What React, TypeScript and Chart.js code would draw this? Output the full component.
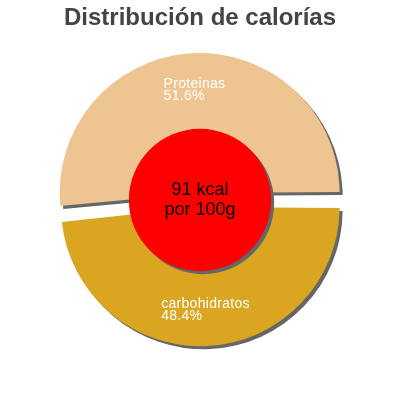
import { useEffect, useRef } from 'react';
import { Chart, ChartConfiguration, Plugin, registerables } from 'chart.js';

Chart.register(...registerables);

const labels = ['Proteinas', 'carbohidratos'];
const percents = [51.6, 48.4];
const sliceColors = ['#EEC591', '#DAA520'];
const centerLines = ['91 kcal', 'por 100g'];
const titleText = 'Distribución de calorías';

// start the first slice so the second one ends at 3 o'clock
const rotation = 90 + 180 - (percents[0] - 50) * 3.6;

const FONT = '"Liberation Sans", Arial, sans-serif';
const SHADOW = '#666666';

const shadowPlugin: Plugin<'pie'> = {
  id: 'shadow',
  beforeDatasetsDraw(chart) {
    const ctx = chart.ctx;
    ctx.save();
    ctx.shadowColor = SHADOW;
    ctx.shadowOffsetX = 3;
    ctx.shadowOffsetY = 3;
    ctx.shadowBlur = 0;
  },
  afterDatasetsDraw(chart) {
    chart.ctx.restore();
  },
};

const labelPlugin: Plugin<'pie'> = {
  id: 'sliceLabels',
  afterDatasetsDraw(chart) {
    const ctx = chart.ctx;
    const meta = chart.getDatasetMeta(0);
    if (!meta.data.length) return;

    ctx.save();
    ctx.fillStyle = '#ffffff';
    ctx.font = `14px ${FONT}`;
    (ctx as any).letterSpacing = '0.3px';
    ctx.textBaseline = 'middle';
    ctx.textAlign = 'left';
    meta.data.forEach((arc: any, i) => {
      const half = (arc.startAngle + arc.endAngle) / 2;
      const r = arc.outerRadius * 0.775 + (arc.options.offset || 0) / 4;
      const px = arc.x + Math.cos(half) * r;
      const py = arc.y + Math.sin(half) * r;
      const lines = [labels[i], percents[i].toFixed(1) + '%'];
      const w = Math.max(...lines.map(l => ctx.measureText(l).width));
      lines.forEach((l, j) => {
        ctx.fillText(l, px - w / 2, py + (j - 0.5) * 12);
      });
    });
    ctx.restore();

    // red disc in the middle with the energy value
    const first = meta.data[0] as any;
    const cx = first.x;
    const cy = first.y;
    const discR = first.outerRadius * 0.535;
    ctx.save();
    ctx.shadowColor = SHADOW;
    ctx.shadowOffsetX = 3;
    ctx.shadowOffsetY = 3;
    ctx.fillStyle = '#FF0000';
    ctx.beginPath();
    ctx.arc(cx, cy, discR, 0, Math.PI * 2);
    ctx.fill();
    ctx.restore();

    ctx.save();
    ctx.fillStyle = '#000000';
    ctx.font = `18px ${FONT}`;
    ctx.textAlign = 'center';
    ctx.textBaseline = 'middle';
    centerLines.forEach((l, j) => {
      ctx.fillText(l, cx, cy + (j - 0.5) * 20);
    });
    ctx.restore();
  },
};

const App = () => {
  const canvasRef = useRef<HTMLCanvasElement>(null);
  const chartRef = useRef<Chart | null>(null);

  useEffect(() => {
    if (!canvasRef.current) return;
    if (chartRef.current) chartRef.current.destroy();

    const config: ChartConfiguration<'pie'> = {
      type: 'pie',
      data: {
        labels,
        datasets: [
          {
            data: percents,
            backgroundColor: sliceColors,
            borderWidth: 0,
            offset: 28,
          },
        ],
      },
      options: {
        responsive: true,
        maintainAspectRatio: false,
        animation: false,
        rotation,
        layout: {
          padding: { top: 0, left: 53, right: 53, bottom: 53 },
        },
        plugins: {
          legend: { display: false },
          tooltip: { enabled: false },
          title: {
            display: true,
            text: titleText,
            color: '#444444',
            font: { family: FONT, size: 24, weight: 'bold', lineHeight: 1.1 },
            padding: { top: 5, bottom: 21.6 },
          },
        },
      },
      plugins: [shadowPlugin, labelPlugin],
    };

    chartRef.current = new Chart(canvasRef.current, config);

    return () => {
      if (chartRef.current) {
        chartRef.current.destroy();
        chartRef.current = null;
      }
    };
  }, []);

  return (
    <div style={{ position: 'absolute', left: 0, top: 0, width: 400, height: 400, background: '#ffffff' }}>
      <canvas ref={canvasRef}></canvas>
    </div>
  );
};

export default App;
